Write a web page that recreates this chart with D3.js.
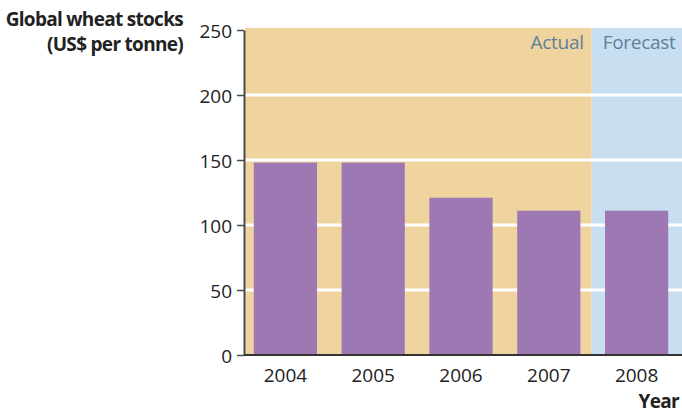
<!DOCTYPE html>
<html>
<head>
<meta charset="utf-8">
<script src="https://cdn.jsdelivr.net/npm/d3@7"></script>
<style>
  body { margin: 0; background: #fff; }
  text { font-family: "Open Sans", "Noto Sans", sans-serif; }
</style>
</head>
<body>
<svg id="chart" width="682" height="414"></svg>
<script>
const years = ["2004", "2005", "2006", "2007", "2008"];
const values = [148, 148, 121, 111, 111];
const yTicks = [0, 50, 100, 150, 200, 250];
const periods = ["Actual", "Forecast"];

const svg = d3.select("#chart");
const mLeft = 245, mRight = 682, mTop = 30, mBottom = 355;

const x = d3.scaleBand().domain(years).range([mLeft, 677]).paddingInner(0.28).paddingOuter(0.1);
const y = d3.scaleLinear().domain([0, 250]).range([mBottom, mTop]);

const step = x.step();
const boundary = x("2008") - (step - x.bandwidth()) / 2 - 1;

svg.append("rect").attr("x", mLeft).attr("y", mTop - 2).attr("width", boundary - mLeft).attr("height", mBottom - mTop + 2).attr("fill", "#efd4a0");
svg.append("rect").attr("x", boundary).attr("y", mTop - 2).attr("width", mRight - boundary).attr("height", mBottom - mTop + 2).attr("fill", "#c8dff2");

// gridlines
svg.append("g").selectAll("line").data(yTicks.filter(d => d > 0 && d < 250)).join("line")
  .attr("x1", mLeft).attr("x2", mRight)
  .attr("y1", d => y(d)).attr("y2", d => y(d))
  .attr("stroke", "#ffffff").attr("stroke-width", 3);

// bars
svg.append("g").selectAll("rect").data(years).join("rect")
  .attr("x", d => x(d)).attr("width", x.bandwidth())
  .attr("y", (d, i) => y(values[i])).attr("height", (d, i) => y(0) - y(values[i]))
  .attr("fill", "#9e78b3");

// period labels
svg.append("text").attr("x", boundary - 8).attr("y", 49).attr("text-anchor", "end")
  .attr("fill", "#5f7f9c").style("font-size", "19px").attr("letter-spacing", "-0.3").text(periods[0]);
svg.append("text").attr("x", boundary + 11).attr("y", 49).attr("text-anchor", "start")
  .attr("fill", "#5f7f9c").style("font-size", "19px").attr("letter-spacing", "-0.3").text(periods[1]);

// y axis
const yAxis = svg.append("g").attr("transform", `translate(${mLeft - 1},0)`)
  .call(d3.axisLeft(y).tickValues(yTicks).tickSize(7).tickSizeOuter(0).tickPadding(5));
yAxis.select(".domain").attr("stroke", "#4a4a4a").attr("stroke-width", 2);
yAxis.selectAll(".tick line").attr("stroke", "#4a4a4a").attr("stroke-width", 1.5);
yAxis.selectAll(".tick text").style("font-size", "19px").attr("fill", "#222").attr("dy", "0.4em");

// x axis
const xAxis = svg.append("g").attr("transform", `translate(0,${mBottom})`)
  .call(d3.axisBottom(x).tickSize(0).tickPadding(14));
xAxis.select(".domain").attr("stroke", "#333").attr("stroke-width", 2)
  .attr("d", `M${mLeft - 1},0H${mRight}`);
xAxis.selectAll(".tick text").style("font-size", "19px").attr("fill", "#222");

// titles
svg.append("text").attr("x", 183).attr("y", 26).attr("text-anchor", "end")
  .style("font-size", "19px").style("font-weight", "bold").attr("fill", "#222").attr("letter-spacing", "-0.7")
  .text("Global wheat stocks");
svg.append("text").attr("x", 183).attr("y", 51).attr("text-anchor", "end")
  .style("font-size", "19px").style("font-weight", "bold").attr("fill", "#222").attr("letter-spacing", "-0.7")
  .text("(US$ per tonne)");
svg.append("text").attr("x", 679).attr("y", 408).attr("text-anchor", "end")
  .style("font-size", "19px").style("font-weight", "bold").attr("fill", "#222").attr("letter-spacing", "-0.7")
  .text("Year");
</script>
</body>
</html>
